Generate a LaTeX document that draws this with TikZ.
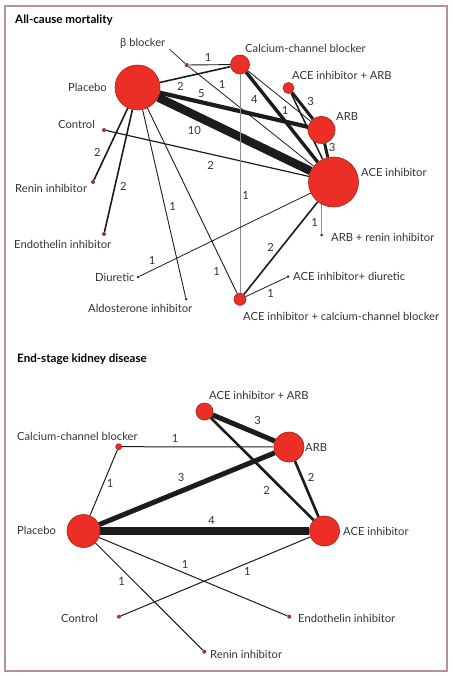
\documentclass[tikz,border=0pt]{standalone}
\usepackage{fontspec}
\setmainfont{Lato}
\usetikzlibrary{backgrounds}
\definecolor{NodeRed}{HTML}{EC2F26}
\definecolor{NodeRim}{HTML}{A81C18}
\definecolor{DotRed}{HTML}{8E3B3B}
\definecolor{Ink}{HTML}{1C1C1C}
\definecolor{LineGray}{HTML}{8C8C8C}
\definecolor{TextGray}{HTML}{333333}
\definecolor{Frame}{HTML}{B7909F}

\begin{document}
\begin{tikzpicture}[x=1pt,y=-1pt,
    arm/.style={circle,draw=NodeRim,fill=NodeRed,line width=0.6pt,inner sep=0pt,minimum size=#1},
    tip/.style={circle,fill=DotRed,inner sep=0pt,minimum size=4pt},
    greytip/.style={circle,fill=TextGray,inner sep=0pt,minimum size=3pt},
    drug/.style={inner sep=0pt,text height=9pt,text depth=1pt,text=TextGray,font=\fontsize{11.2}{13}\selectfont},
    trials/.style={inner sep=0pt,text=TextGray,font=\fontsize{11.2}{13}\selectfont},
    panel/.style={anchor=west,inner sep=0pt,text height=9pt,text depth=1pt,font=\fontsize{11.6}{13}\selectfont\bfseries},
    link/.style={draw=Ink,line width=#1},
    greylink/.style={draw=LineGray,line width=0.9pt}]
    \useasboundingbox (0,0) rectangle (452,676);
    \draw[Frame,line width=1.3pt] (5,6) rectangle (447,671);

    % all-cause mortality
    \node[panel] (mtitle) at (15,20) {All-cause mortality};
    \node[arm=45pt] (mplacebo) at (137.5,87.5) {};
    \node[arm=19pt] (mccb) at (240,64.5) {};
    \node[tip] (mbeta) at (186.7,65) {};
    \node[arm=11pt] (macearb) at (288.5,88) {};
    \node[arm=27pt] (marb) at (321.5,130) {};
    \node[arm=50pt] (mace) at (333.5,182) {};
    \node[tip] (mctrl) at (104,130) {};
    \node[tip] (mrenin) at (93,182) {};
    \node[tip] (mendo) at (104,234) {};
    \node[greytip] (mdiur) at (138,277) {};
    \node[greytip] (maldo) at (186,299) {};
    \node[arm=12pt] (maceccb) at (240,299.3) {};
    \node[greytip] (macediur) at (288,276.7) {};
    \node[greytip] (marbrenin) at (321.7,235) {};

    \node[drug,anchor=west] (mbetalab) at (120,43) {β blocker};
    \node[drug,anchor=west] at (245,49) {Calcium-channel blocker};
    \node[drug,anchor=east] at (107,88) {Placebo};
    \node[drug,anchor=west] at (292,76) {ACE inhibitor + ARB};
    \node[drug,anchor=west] at (336,117) {ARB};
    \node[drug,anchor=west] at (361,173) {ACE inhibitor};
    \node[drug,anchor=west] at (58,125) {Control};
    \node[drug,anchor=west] at (15,189) {Renin inhibitor};
    \node[drug,anchor=west] at (14,244) {Endothelin inhibitor};
    \node[drug,anchor=west] at (95,277) {Diuretic};
    \node[drug,anchor=west] at (88,308) {Aldosterone inhibitor};
    \node[drug,anchor=west] at (243,316) {ACE inhibitor + calcium-channel blocker};
    \node[drug,anchor=west] at (293,276) {ACE inhibitor+ diuretic};
    \node[drug,anchor=west] at (331,237) {ARB + renin inhibitor};

    \begin{scope}[on background layer]
      \draw[link=0.7pt] ([xshift=4pt,yshift=-1pt]mbetalab.south east) -- (mbeta);
      \draw[link=0.9pt] (mbeta) -- (mccb);
      \draw[link=0.8pt] (mbeta) -- (mace);
      \draw[link=1.6pt] (mplacebo) -- (mccb);
      \draw[link=4.2pt] (mplacebo) -- (marb);
      \draw[link=8.5pt] (mplacebo) -- (mace);
      \draw[link=3.4pt] (mccb) -- (mace);
      \draw[link=0.8pt] (mccb) -- (marb);
      \draw[link=3pt] (macearb) -- (marb);
      \draw[link=1.5pt] (macearb) -- (mace);
      \draw[link=3pt] (marb) -- (mace);
      \draw[link=1.2pt] (mctrl) -- (mace);
      \draw[link=1.6pt] (mplacebo) -- (mrenin);
      \draw[link=1.6pt] (mplacebo) -- (mendo);
      \draw[link=0.9pt] (mplacebo) -- (maldo);
      \draw[link=0.9pt] (mplacebo) -- (maceccb);
      \draw[greylink] (mccb) -- (maceccb);
      \draw[link=0.8pt] (mdiur) -- (mace);
      \draw[greylink] (marbrenin) -- (marbrenin |- mace.center);
      \draw[link=1.6pt] (mace) -- (maceccb);
      \draw[link=0.8pt] (maceccb) -- (macediur);
    \end{scope}

    \node[trials] at (208,57) {1};
    \node[trials] at (222,84.3) {1};
    \node[trials] at (180.3,86) {2};
    \node[trials] at (201.3,93.3) {5};
    \node[trials] at (254.3,99.3) {4};
    \node[trials] at (285,110) {1};
    \node[trials] at (310.7,101.7) {3};
    \node[trials] at (332,147.3) {3};
    \node[trials] at (194.3,130) {10};
    \node[trials] at (210.7,165) {2};
    \node[trials] at (97.3,152.3) {2};
    \node[trials] at (123.3,186) {2};
    \node[trials] at (172.7,206.7) {1};
    \node[trials] at (245.7,195) {1};
    \node[trials] at (314.7,222.3) {1};
    \node[trials] at (270.7,247.3) {2};
    \node[trials] at (152,260.7) {1};
    \node[trials] at (216.7,271) {1};
    \node[trials] at (270.7,293.3) {1};

    % end-stage kidney disease
    \node[panel] (ktitle) at (17,358) {End-stage kidney disease};
    \node[arm=17pt] (kacearb) at (204.5,411.5) {};
    \node[arm=30pt] (karb) at (289,447) {};
    \node[arm=6pt] (kccb) at (118.7,446.7) {};
    \node[arm=33pt] (kplacebo) at (83.5,531) {};
    \node[arm=30pt] (kace) at (324.5,531) {};
    \node[tip] (kctrl) at (119,616.7) {};
    \node[tip] (kendo) at (289.3,616.7) {};
    \node[tip] (krenin) at (204.3,651.7) {};

    \node[drug,anchor=west] at (209,395) {ACE inhibitor + ARB};
    \node[drug,anchor=west] at (17,436) {Calcium-channel blocker};
    \node[drug,anchor=west] at (305,447) {ARB};
    \node[drug,anchor=west] at (17,530) {Placebo};
    \node[drug,anchor=west] at (343,531) {ACE inhibitor};
    \node[drug,anchor=west] at (61,618) {Control};
    \node[drug,anchor=west] at (298,618) {Endothelin inhibitor};
    \node[drug,anchor=west] at (210,654) {Renin inhibitor};

    \begin{scope}[on background layer]
      \draw[link=1pt] (kccb) -- (karb);
      \draw[link=1pt] (kccb) -- (kplacebo);
      \draw[link=5pt] (kacearb) -- (karb);
      \draw[link=2.6pt] (kacearb) -- (kace);
      \draw[link=2.6pt] (karb) -- (kace);
      \draw[link=5pt] (kplacebo) -- (karb);
      \draw[link=7.5pt] (kplacebo) -- (kace);
      \draw[link=1pt] (kplacebo) -- (krenin);
      \draw[link=1pt] (kplacebo) -- (kendo);
      \draw[link=1pt] (kctrl) -- (kace);
    \end{scope}

    \node[trials] at (175,438.3) {1};
    \node[trials] at (257.7,420) {3};
    \node[trials] at (110,483.3) {1};
    \node[trials] at (181,477.7) {3};
    \node[trials] at (266.7,490.7) {2};
    \node[trials] at (311,477.7) {2};
    \node[trials] at (211.7,520.7) {4};
    \node[trials] at (185,564) {1};
    \node[trials] at (121.7,581.7) {1};
    \node[trials] at (247.3,571.7) {1};
  \end{tikzpicture}
\end{document}
